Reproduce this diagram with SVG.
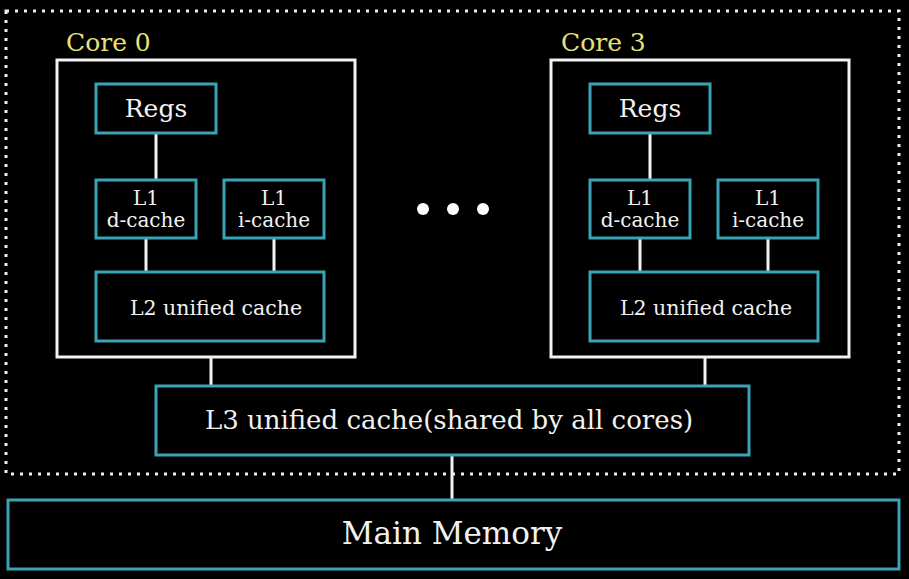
<svg xmlns="http://www.w3.org/2000/svg" width="909" height="579" viewBox="0 0 909 579">
<style>
.c{fill:none;stroke:#3aa3b5;stroke-width:3}
.w{fill:none;stroke:#f2f2f2;stroke-width:3}
.t{fill:#f2f2f2;font-family:"DejaVu Serif","Liberation Serif",serif;text-anchor:middle}
.y{fill:#e8e07a;font-family:"DejaVu Serif","Liberation Serif",serif;font-size:25px}
</style>
<rect width="909" height="579" fill="#000"/>
<rect x="6" y="11" width="893" height="463" fill="none" stroke="#eee" stroke-width="3" stroke-dasharray="3,6"/>
<g id="connectors" stroke="#f2f2f2" stroke-width="3">
<line x1="156" y1="133" x2="156" y2="180"/><line x1="146" y1="238" x2="146" y2="272"/><line x1="274" y1="238" x2="274" y2="272"/>
<line x1="650" y1="133" x2="650" y2="180"/><line x1="640" y1="238" x2="640" y2="272"/><line x1="768" y1="238" x2="768" y2="272"/>
<line x1="211" y1="357" x2="211" y2="386"/><line x1="705" y1="357" x2="705" y2="386"/><line x1="452" y1="455" x2="452" y2="500"/>
</g>
<g id="core0"><rect class="w" x="57" y="60" width="298" height="297"/><text class="y" x="66" y="51">Core 0</text></g>
<g id="core3"><rect class="w" x="551" y="60" width="298" height="297"/><text class="y" x="561" y="51">Core 3</text></g>
<g id="regs0"><rect class="c" x="96" y="84" width="120" height="49"/><text class="t" x="156" y="117" font-size="25">Regs</text></g>
<g id="l1d0"><rect class="c" x="96" y="180" width="100" height="58"/><text class="t" x="146" y="205" font-size="20">L1</text><text class="t" x="146" y="227" font-size="20">d-cache</text></g>
<g id="l1i0"><rect class="c" x="224" y="180" width="100" height="58"/><text class="t" x="274" y="205" font-size="20">L1</text><text class="t" x="274" y="227" font-size="20">i-cache</text></g>
<g id="l20"><rect class="c" x="96" y="272" width="228" height="69"/><text class="t" x="216" y="315" font-size="20.5">L2 unified cache</text></g>
<g id="regs3"><rect class="c" x="590" y="84" width="120" height="49"/><text class="t" x="650" y="117" font-size="25">Regs</text></g>
<g id="l1d3"><rect class="c" x="590" y="180" width="100" height="58"/><text class="t" x="640" y="205" font-size="20">L1</text><text class="t" x="640" y="227" font-size="20">d-cache</text></g>
<g id="l1i3"><rect class="c" x="718" y="180" width="100" height="58"/><text class="t" x="768" y="205" font-size="20">L1</text><text class="t" x="768" y="227" font-size="20">i-cache</text></g>
<g id="l23"><rect class="c" x="590" y="272" width="228" height="69"/><text class="t" x="706" y="315" font-size="20.5">L2 unified cache</text></g>
<g id="dots" fill="#fff"><circle cx="423" cy="209" r="6"/><circle cx="453" cy="209" r="6"/><circle cx="483" cy="209" r="6"/></g>
<g id="l3"><rect class="c" x="156" y="386" width="593" height="69"/><text class="t" x="449" y="429" font-size="26">L3 unified cache(shared by all cores)</text></g>
<g id="mem"><rect class="c" x="8" y="500" width="891" height="69"/><text class="t" x="452" y="544" font-size="31">Main Memory</text></g>
</svg>
